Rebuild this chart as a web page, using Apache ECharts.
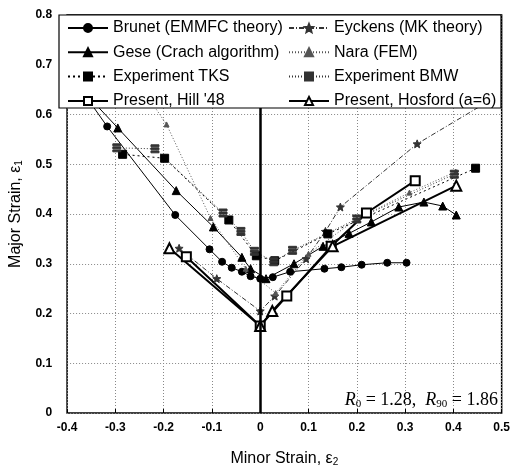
<!DOCTYPE html>
<html>
<head>
<meta charset="utf-8">
<script src="https://cdn.jsdelivr.net/npm/echarts@6/dist/echarts.min.js"></script>
<style>
  html, body { margin: 0; padding: 0; background: #fff; }
  #chart { width: 513px; height: 472px; }
</style>
</head>
<body>
<div id="chart"></div>
<script>
// valores: [minor strain, major strain]
const brunet = [[-0.36, 0.635], [-0.317, 0.576], [-0.176, 0.398], [-0.105, 0.329], [-0.079, 0.304], [-0.059, 0.292],
    [-0.038, 0.284], [-0.02, 0.275], [0, 0.27], [0.026, 0.273], [0.062, 0.284], [0.133, 0.29], [0.168, 0.293],
    [0.21, 0.298], [0.263, 0.302], [0.303, 0.302]];
const gese = [[-0.35, 0.63], [-0.295, 0.573], [-0.174, 0.447], [-0.097, 0.374], [-0.038, 0.313], [-0.02, 0.29],
    [0.012, 0.27], [0.07, 0.3], [0.13, 0.335], [0.184, 0.361], [0.23, 0.384], [0.287, 0.414], [0.339, 0.424],
    [0.378, 0.416], [0.406, 0.398]];
const eyckens = [[-0.168, 0.331], [-0.09, 0.27], [0, 0.205], [0.03, 0.235], [0.095, 0.31], [0.135, 0.365],
    [0.166, 0.414], [0.325, 0.541], [0.47, 0.625]];
const nara = [[-0.25, 0.66], [-0.194, 0.58], [-0.103, 0.392], [-0.03, 0.29], [0.032, 0.241], [0.1, 0.32],
    [0.2, 0.39], [0.309, 0.443], [0.405, 0.485]];
const tks = [[-0.285, 0.52], [-0.198, 0.512], [-0.065, 0.388], [-0.008, 0.316], [0.03, 0.306], [0.14, 0.36],
    [0.446, 0.492]];
const bmw = [[-0.297, 0.533], [-0.218, 0.531], [-0.077, 0.402], [-0.04, 0.365], [-0.012, 0.325], [0.028, 0.304],
    [0.067, 0.327], [0.2, 0.39], [0.402, 0.48]];
const hill = [[-0.153, 0.314], [0, 0.175], [0.055, 0.235], [0.147, 0.335], [0.22, 0.402], [0.321, 0.467]];
const hosford = [[-0.188, 0.331], [0, 0.175], [0.025, 0.205], [0.15, 0.335], [0.406, 0.457]];

const xTicks = [-0.4, -0.3, -0.2, -0.1, 0, 0.1, 0.2, 0.3, 0.4, 0.5];
const yTicks = [0, 0.1, 0.2, 0.3, 0.4, 0.5, 0.6, 0.7, 0.8];

const nombres = ["Brunet (EMMFC theory)", "Eyckens (MK theory)", "Gese (Crach algorithm)", "Nara (FEM)",
    "Experiment TKS", "Experiment BMW", "Present, Hill '48", "Present, Hosford (a=6)"];

const starPath = "path://M0,-10L2.6,-3.6L9.5,-3.1L4.2,1.4L5.9,8.1L0,4.4L-5.9,8.1L-4.2,1.4L-9.5,-3.1L-2.6,-3.6Z";
const bmwPath = "path://M0,0H10V2.4H0Z M0,3.8H10V6.2H0Z M0,7.6H10V10H0Z";

const chart = echarts.init(document.getElementById("chart"));

function serie(name, data, simbolo, tam, color, ancho, tipo, extra) {
    return Object.assign({
        name: name,
        type: "line",
        data: data,
        symbol: simbolo,
        symbolSize: tam,
        showSymbol: true,
        itemStyle: { color: color, borderColor: color, borderWidth: ancho > 1.5 ? 1.5 : 1 },
        lineStyle: { color: color, width: ancho, type: tipo },
        emphasis: { disabled: true },
        z: 2
    }, extra || {});
}

const axisFont = { fontFamily: "Liberation Sans, Arial", fontWeight: "bold", fontSize: 12, color: "#000" };
const nameFont = {
    fontFamily: "Liberation Sans, Arial", fontSize: 16, color: "#000",
    rich: { sub: { fontSize: 10, verticalAlign: "bottom", padding: [7, 0, 0, 0], fontFamily: "Liberation Sans, Arial" } }
};
const legendText = { fontFamily: "Liberation Sans, Arial", fontSize: 16, color: "#000" };

chart.setOption({
    animation: false,
    grid: { left: 59, right: 8, top: 15, bottom: 49, show: true, borderColor: "#000", borderWidth: 1.5 },
    xAxis: {
        type: "value",
        min: -0.4, max: 0.5, interval: 0.1,
        name: "Minor Strain, ε{sub|2}",
        nameLocation: "middle",
        nameGap: 37,
        nameTextStyle: nameFont,
        axisLine: { show: false },
        axisTick: { show: true, inside: true, length: 4, lineStyle: { color: "#000" } },
        axisLabel: Object.assign({ margin: 9, formatter: v => String(xTicks.find(t => Math.abs(t - v) < 1e-9) ?? v) }, axisFont),
        splitLine: { show: true, lineStyle: { color: "#888", type: [1, 2], width: 1 } }
    },
    yAxis: {
        type: "value",
        min: 0, max: 0.8, interval: 0.1,
        name: "Major Strain, ε{sub|1}",
        nameLocation: "middle",
        nameGap: 40,
        nameTextStyle: nameFont,
        axisLine: { show: false },
        axisTick: { show: false },
        axisLabel: Object.assign({ margin: 15, formatter: v => String(yTicks.find(t => Math.abs(t - v) < 1e-9) ?? v) }, axisFont),
        splitLine: { show: true, lineStyle: { color: "#888", type: [1, 2], width: 1 } }
    },
    legend: [
        {
            data: [nombres[0], nombres[2], nombres[4], nombres[6]],
            orient: "vertical", left: 62, top: 15,
            itemWidth: 40, itemHeight: 10, itemGap: 8.3,
            selectedMode: false, z: 20,
            textStyle: legendText
        },
        {
            data: [nombres[1], nombres[3], nombres[5], nombres[7]],
            orient: "vertical", left: 283, top: 15,
            itemWidth: 40, itemHeight: 10, itemGap: 8.3,
            selectedMode: false, z: 20,
            textStyle: legendText
        }
    ],
    graphic: [
        {
            type: "rect", z: 10,
            shape: { x: 59, y: 15, width: 442, height: 93 },
            style: { fill: "#fff", stroke: "#000", lineWidth: 1.2 }
        },
        {
            type: "text", z: 10,
            right: 15, top: 391,
            style: {
                text: "{r|R}{s|0}{t| = 1.28,  }{r|R}{s|90}{t| = 1.86}",
                rich: {
                    r: { fontFamily: "Liberation Serif, Times New Roman", fontStyle: "italic", fontSize: 18, fill: "#000" },
                    s: { fontFamily: "Liberation Serif, Times New Roman", fontSize: 11, fill: "#000", verticalAlign: "bottom", padding: [9, 0, 0, 0] },
                    t: { fontFamily: "Liberation Serif, Times New Roman", fontSize: 18, fill: "#000" }
                }
            }
        }
    ],
    series: [
        serie(nombres[0], brunet, "circle", 7, "#000", 1, "solid", {
            markLine: {
                silent: true, symbol: "none", label: { show: false },
                lineStyle: { color: "#000", width: 2.5, type: "solid" },
                data: [{ xAxis: 0 }]
            }
        }),
        serie(nombres[1], eyckens, starPath, 8, "#333", 1, [5, 2, 1, 2]),
        serie(nombres[2], gese, "triangle", 8, "#000", 1, "solid"),
        serie(nombres[3], nara, "triangle", 5, "#555", 1, [1, 2]),
        serie(nombres[4], tks, "rect", 8, "#000", 1, [2, 3]),
        serie(nombres[5], bmw, bmwPath, 8, "#333", 1, [1, 2]),
        serie(nombres[6], hill, "emptyRect", 9, "#000", 2, "solid"),
        serie(nombres[7], hosford, "emptyTriangle", 10, "#000", 2, "solid")
    ]
});
</script>
</body>
</html>
